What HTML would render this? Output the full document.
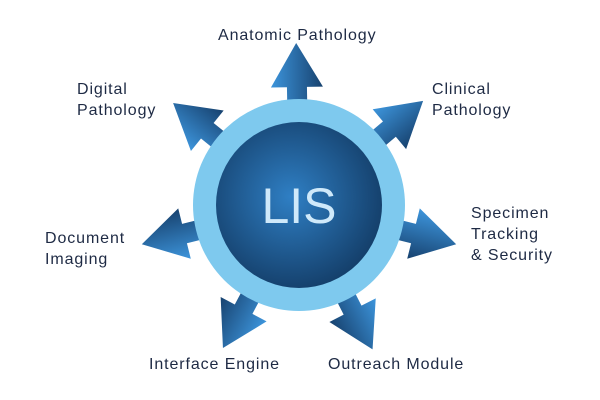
<!DOCTYPE html>
<html><head><style>
body{margin:0;background:#fff;width:600px;height:400px;overflow:hidden;font-family:"Liberation Sans",sans-serif}
.t{position:absolute;color:#1e2a44;font-size:16px;line-height:21px;letter-spacing:0.9px}
</style></head><body>
<svg width="600" height="400" style="position:absolute;left:0;top:0">
<defs>
<linearGradient id="ag" x1="0" y1="0" x2="1" y2="0">
<stop offset="0" stop-color="#3d95dc"/><stop offset="1" stop-color="#17426f"/>
</linearGradient>
<radialGradient id="cg" cx="0.45" cy="0.45" r="0.6">
<stop offset="0" stop-color="#2f7fc4"/><stop offset="1" stop-color="#133c66"/>
</radialGradient>
<g id="arr"><path d="M-10,-90 L-10,-118 L-26,-118 L0,-162 L26,-118 L10,-118 L10,-90 Z" fill="url(#ag)"/></g>
</defs>
<g transform="translate(299,205)">
<use href="#arr" transform="rotate(-1)"/>
<use href="#arr" transform="rotate(50)"/>
<use href="#arr" transform="rotate(104)"/>
<use href="#arr" transform="rotate(153)"/>
<use href="#arr" transform="rotate(208)"/>
<use href="#arr" transform="rotate(256)"/>
<use href="#arr" transform="rotate(-51)"/>
<circle r="106" fill="#7ec9ee"/>
<circle r="83" fill="url(#cg)"/>
<text x="0" y="18" text-anchor="middle" font-family="Liberation Sans,sans-serif" font-size="50" fill="#cfe9fa">LIS</text>
</g>
</svg>
<div class="t" style="left:218px;top:25px">Anatomic Pathology</div>
<div class="t" style="left:77px;top:79px">Digital<br>Pathology</div>
<div class="t" style="left:432px;top:79px">Clinical<br>Pathology</div>
<div class="t" style="left:471px;top:203px">Specimen<br>Tracking<br>&amp; Security</div>
<div class="t" style="left:45px;top:228px">Document<br>Imaging</div>
<div class="t" style="left:149px;top:354px">Interface Engine</div>
<div class="t" style="left:328px;top:354px">Outreach Module</div>
</body></html>
